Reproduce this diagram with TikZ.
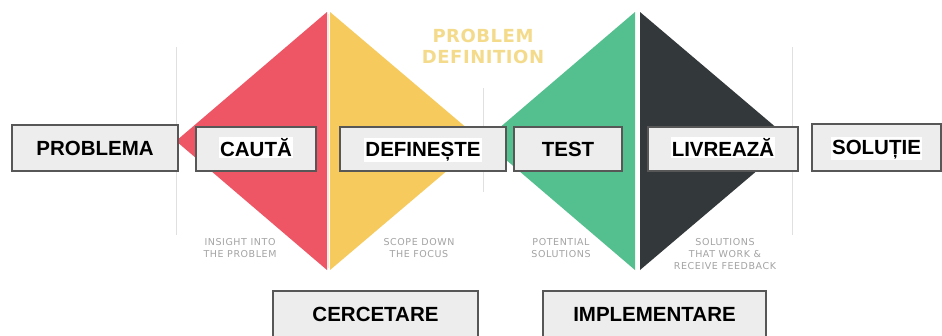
\documentclass[tikz,border=0pt]{standalone}
\usepackage{fontspec}
\setmainfont{Liberation Sans}
\newfontfamily\dejavu{DejaVu Sans}
\newfontfamily\dejavuwide[LetterSpace=6]{DejaVu Sans}
\newfontfamily\dejavutitle[LetterSpace=3]{DejaVu Sans}
\definecolor{redc}{HTML}{EE5565}
\definecolor{yelc}{HTML}{F6CA5C}
\definecolor{grnc}{HTML}{55C08F}
\definecolor{drkc}{HTML}{33383A}
\definecolor{sepc}{HTML}{FBE7CF}
\definecolor{boxfill}{HTML}{EDEDED}
\definecolor{boxline}{HTML}{575757}
\definecolor{notegrey}{HTML}{A3A3A3}
\definecolor{guidegrey}{HTML}{E0E0E0}
\definecolor{titlec}{HTML}{F4DB8C}
\newcommand{\hlw}[1]{{\setlength{\fboxsep}{1pt}\colorbox{white}{\rule[-1pt]{0pt}{18pt}#1}}}
\begin{document}
\begin{tikzpicture}[x=1pt,y=-1pt,
  box/.style={draw=boxline,fill=boxfill,line width=2pt,inner sep=0pt,
    text height=14.3pt,text depth=0pt,font=\fontsize{20.5}{24}\selectfont\bfseries},
  note/.style={text=notegrey,font=\dejavuwide\fontsize{9.5}{12}\selectfont,align=center,inner sep=0pt},
  ttl/.style={text=titlec,font=\dejavutitle\bfseries\fontsize{18}{21}\selectfont,inner sep=0pt,anchor=base},
  guide/.style={draw=guidegrey,line width=1pt}]
\useasboundingbox (0,0) rectangle (942,335);
\fill[white] (0,0) rectangle (942,335);
% guide lines
\draw[guide] (176,47) -- (176,235);
\draw[guide] (483,88) -- (483,192);
\draw[guide] (792,47) -- (792,235);
% diamonds
\fill[redc] (176,141) -- (327,12) -- (327,270) -- cycle;
\fill[yelc] (330,12) -- (482,141) -- (330,270) -- cycle;
\draw[sepc,line width=1.5pt] (328.5,14) -- (328.5,268);
\fill[grnc] (484,141) -- (635,12) -- (635,270) -- cycle;
\fill[drkc] (640,12) -- (792,141) -- (640,270) -- cycle;
% title
\node[ttl] (t1) at (483,42) {PROBLEM};
\node[ttl] (t2) at (483,63) {DEFINITION};
% notes
\node[note] (n1) at (240,248) {INSIGHT INTO\\THE PROBLEM};
\node[note] (n2) at (419,248) {SCOPE DOWN\\THE FOCUS};
\node[note] (n3) at (561,248) {POTENTIAL\\SOLUTIONS};
\node[note] (n4) at (725,254) {SOLUTIONS\\THAT WORK \&\\RECEIVE FEEDBACK};
% boxes
\node[box,minimum width=166pt,minimum height=46pt] (problema) at (95,148) {PROBLEMA};
\node[box,minimum width=120pt,minimum height=44pt] (cauta) at (256,149) {\hlw{CAUTĂ}};
\node[box,minimum width=166pt,minimum height=44pt] (defineste) at (423,149) {\hlw{DEFINEȘTE}};
\node[box,minimum width=108pt,minimum height=44pt] (test) at (568,149) {TEST};
\node[box,minimum width=150pt,minimum height=44pt] (livreaza) at (723,149) {\hlw{LIVREAZĂ}};
\node[box,minimum width=129pt,minimum height=47pt] (solutie) at (876.5,147.5) {\hlw{SOLUȚIE}};
\node[box,minimum width=205pt,minimum height=46pt] (cercetare) at (375.5,314) {CERCETARE};
\node[box,minimum width=223pt,minimum height=46pt] (implementare) at (654.5,314) {IMPLEMENTARE};
\end{tikzpicture}
\end{document}
